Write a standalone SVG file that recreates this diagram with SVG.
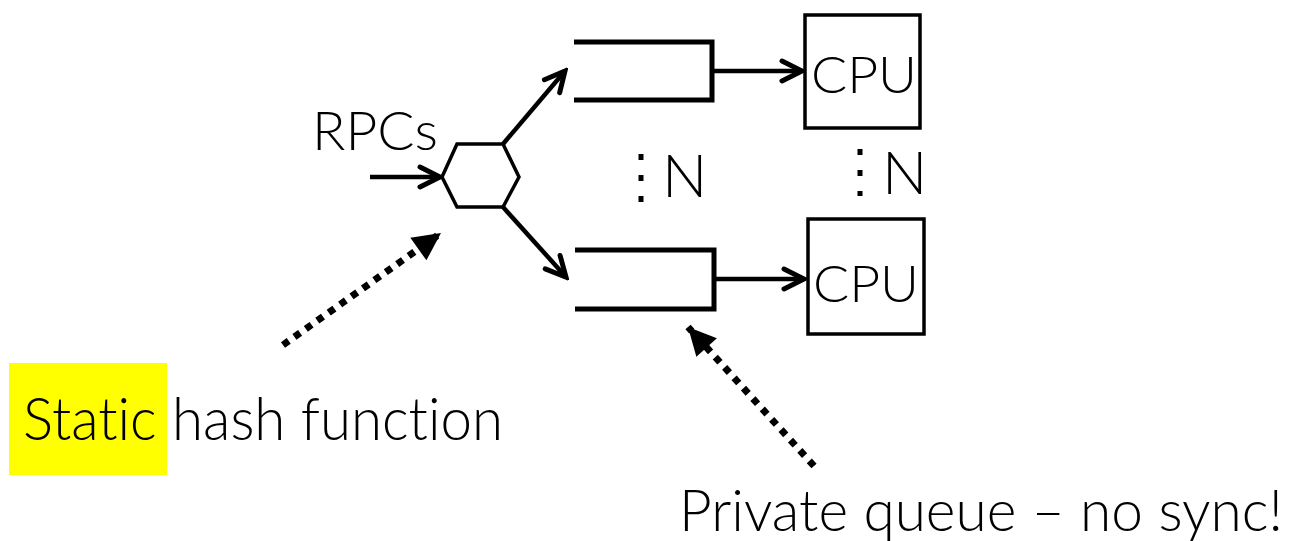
<svg xmlns="http://www.w3.org/2000/svg" width="1299" height="541" viewBox="0 0 1299 541">
  <style>
    .txt { font-family: Lato, "Liberation Sans", sans-serif; font-weight: 300; fill: #000; font-variant-ligatures: none; }
    .thin { fill: none; stroke: #000; stroke-width: 3.5; stroke-linejoin: miter; }
    .queue { fill: none; stroke: #000; stroke-width: 5; stroke-linejoin: miter; }
    .flow { fill: none; stroke: #000; stroke-width: 4.5; }
    .hint { fill: none; stroke: #000; stroke-width: 7; stroke-dasharray: 7 7; }
    .ellip { fill: none; stroke: #000; stroke-width: 5; stroke-dasharray: 6 15; }
  </style>
  <defs>
    <marker id="barb" markerUnits="userSpaceOnUse" markerWidth="28" markerHeight="28" viewBox="-24 -14 28 28" refX="0" refY="0" orient="auto">
      <path d="M-20,-10 L0,0 L-20,10" fill="none" stroke="#000" stroke-width="5" stroke-linecap="round" stroke-linejoin="miter"/>
    </marker>
    <marker id="tri" markerUnits="userSpaceOnUse" markerWidth="32" markerHeight="32" viewBox="-28 -15 30 30" refX="0" refY="0" orient="auto">
      <path d="M-26,-13 L0,0 L-26,13 z" fill="#000"/>
    </marker>
  </defs>

  <!-- yellow highlight behind the word "Static" -->
  <rect x="9" y="363" width="158" height="112" fill="#ffff00"/>

  <g id="dispatcher">
    <polygon class="thin" points="442,177 457,144 503,144 519,177 503,207 457,207"/>
    <text class="txt" x="312" y="150" font-size="54" textLength="126" lengthAdjust="spacingAndGlyphs">RPCs</text>
  </g>

  <g id="queue-top">
    <polyline class="queue" points="574,42 712,42 712,100 574,100"/>
  </g>
  <g id="queue-bottom">
    <polyline class="queue" points="575,250 714,250 714,309 575,309"/>
  </g>

  <g id="cpu-top">
    <rect class="thin" x="805" y="15" width="115" height="113"/>
    <text class="txt" x="811" y="93" font-size="52" textLength="106" lengthAdjust="spacingAndGlyphs">CPU</text>
  </g>
  <g id="cpu-bottom">
    <rect class="thin" x="808" y="219" width="116" height="115"/>
    <text class="txt" x="813" y="302" font-size="52" textLength="106" lengthAdjust="spacingAndGlyphs">CPU</text>
  </g>

  <g id="count-queues">
    <line class="ellip" x1="641" y1="154" x2="641" y2="202"/>
    <text class="txt" x="662" y="197" font-size="60">N</text>
  </g>
  <g id="count-cpus">
    <line class="ellip" x1="860" y1="149" x2="860" y2="196"/>
    <text class="txt" x="882" y="194" font-size="60">N</text>
  </g>

  <g id="label-hash">
    <text class="txt" x="23" y="440" font-size="59" textLength="480" lengthAdjust="spacingAndGlyphs">Static hash function</text>
  </g>
  <g id="label-queue">
    <text class="txt" x="679" y="531" font-size="57" textLength="604" lengthAdjust="spacingAndGlyphs">Private queue – no sync!</text>
  </g>

  <g id="connectors">
    <line class="flow" x1="370" y1="177" x2="440" y2="177" marker-end="url(#barb)"/>
    <line class="flow" x1="503" y1="144" x2="565" y2="71" marker-end="url(#barb)"/>
    <line class="flow" x1="503" y1="207" x2="566" y2="277" marker-end="url(#barb)"/>
    <line class="flow" x1="712" y1="71" x2="802" y2="71" marker-end="url(#barb)"/>
    <line class="flow" x1="714" y1="279" x2="804" y2="279" marker-end="url(#barb)"/>
    <line class="hint" x1="283" y1="345" x2="441" y2="233" marker-end="url(#tri)"/>
    <line class="hint" x1="814" y1="466" x2="688" y2="327" marker-end="url(#tri)"/>
  </g>
</svg>
